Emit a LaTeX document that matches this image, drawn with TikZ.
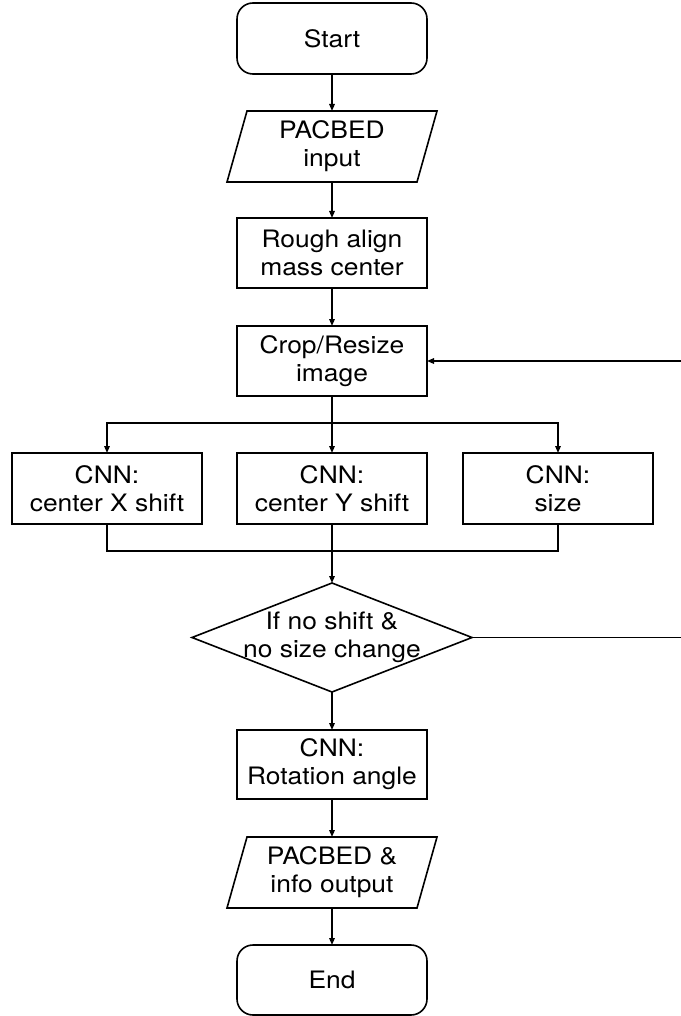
\documentclass[tikz,border=0pt]{standalone}
\usepackage{fontspec}
\setmainfont{TeX Gyre Heros}[FakeStretch=1.1]
\usetikzlibrary{arrows.meta}
\begin{document}
\begin{tikzpicture}[x=1pt,y=-1pt,
  every node/.style={font=\fontsize{24}{28}\selectfont, align=center, inner sep=0pt, outer sep=0pt},
  box/.style={draw, line width=1.6pt, minimum width=190pt, minimum height=70pt},
  term/.style={box, rounded corners=16pt},
  iobox/.style={minimum width=210pt, minimum height=71pt},
  decbox/.style={minimum width=280pt, minimum height=109pt},
  shapeline/.style={line width=1.6pt, line join=miter},
  conn/.style={line width=1.5pt},
  arr/.style={conn, -{Triangle[length=7pt,width=5.5pt]}}]
\useasboundingbox (0,0) rectangle (680,1016);

\node[term, minimum height=71pt] (start) at (332,38.5) {Start};
\node[iobox] (in) at (332,146.5) {PACBED\\input};
\draw[shapeline] ([xshift=20pt]in.north west) -- (in.north east) -- ([xshift=-20pt]in.south east) -- (in.south west) -- cycle;
\node[box] (rough) at (332,253) {Rough align\\mass center};
\node[box] (crop) at (332,361) {Crop/Resize\\image};
\node[box, minimum height=71pt] (cnnx) at (107,488.5) {CNN:\\center X shift};
\node[box, minimum height=71pt] (cnny) at (332,488.5) {CNN:\\center Y shift};
\node[box, minimum height=71pt] (cnns) at (558,488.5) {CNN:\\size};
\node[decbox] (dec) at (332,637.5) {If no shift \&\\no size change};
\draw[shapeline] (dec.north) -- (dec.east) -- (dec.south) -- (dec.west) -- cycle;
\node[box, minimum height=69pt] (rot) at (332,764.5) {CNN:\\Rotation angle};
\node[iobox] (out) at (332,872.5) {PACBED \&\\info output};
\draw[shapeline] ([xshift=20pt]out.north west) -- (out.north east) -- ([xshift=-20pt]out.south east) -- (out.south west) -- cycle;
\node[term] (end) at (332,980) {End};

\coordinate (br) at (332,423);
\coordinate (mg) at (332,551);
\coordinate (fb) at (681.5,637.5);

\draw[arr] (start) -- (in);
\draw[arr] (in) -- (rough);
\draw[arr] (rough) -- (crop);
\draw[conn] (crop) -- (br);
\draw[arr] (br) -- (cnny);
\draw[arr] (br) -| (cnnx);
\draw[arr] (br) -| (cnns);
\draw[conn] (cnnx) |- (mg);
\draw[conn] (cnns) |- (mg);
\draw[arr] (cnny) -- (dec.north);
\draw[arr] (dec.south) -- (rot);
\draw[arr] (rot) -- (out);
\draw[arr] (out) -- (end);
\draw[arr] (dec.east) -- (fb) |- (crop.east);
\end{tikzpicture}
\end{document}
